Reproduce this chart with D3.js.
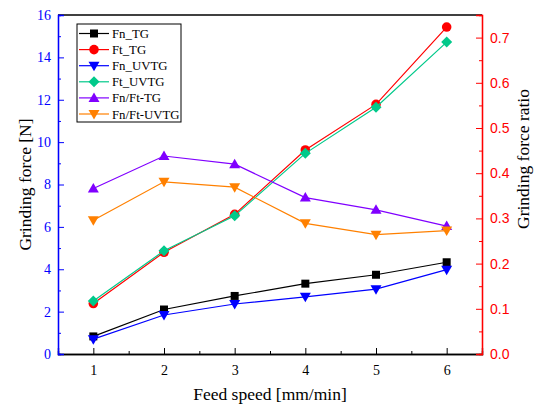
<!DOCTYPE html>
<html>
<head>
<meta charset="utf-8">
<title>Grinding force</title>
<script src="https://d3js.org/d3.v7.min.js"></script>
<style>
  body { margin: 0; background: #fff; }
  text { font-family: "Liberation Serif", "Times New Roman", serif; }
</style>
</head>
<body>
<div id="chart"></div>
<script>
// data
let feed = [1, 2, 3, 4, 5, 6];
let fnTG = [0.83, 2.1, 2.74, 3.32, 3.74, 4.33];
let ftTG = [2.38, 4.8, 6.59, 9.63, 11.78, 15.43];
let fnUVTG = [0.7, 1.84, 2.36, 2.7, 3.06, 3.98];
let ftUVTG = [2.5, 4.87, 6.52, 9.47, 11.65, 14.72];
let ratioTG = [0.366, 0.438, 0.42, 0.346, 0.319, 0.283];
let ratioUVTG = [0.296, 0.381, 0.369, 0.289, 0.264, 0.273];

let leftTicks = [0, 2, 4, 6, 8, 10, 12, 14, 16];
let rightTicks = [0, 0.1, 0.2, 0.3, 0.4, 0.5, 0.6, 0.7];

let series = [
  {name: "Fn_TG", values: fnTG, color: "#000000", sym: "square", axis: "left"},
  {name: "Ft_TG", values: ftTG, color: "#ff0000", sym: "circle", axis: "left"},
  {name: "Fn_UVTG", values: fnUVTG, color: "#0000ff", sym: "down", axis: "left"},
  {name: "Ft_UVTG", values: ftUVTG, color: "#00c98a", sym: "diamond", axis: "left"},
  {name: "Fn/Ft-TG", values: ratioTG, color: "#8000ff", sym: "up", axis: "right"},
  {name: "Fn/Ft-UVTG", values: ratioUVTG, color: "#ff8000", sym: "down", axis: "right"}
];

let margin = {top: 15, right: 57, bottom: 54, left: 58};
let W = 539, H = 408;
let w = W - margin.left - margin.right;
let h = H - margin.top - margin.bottom;

let svg = d3.select("#chart").append("svg")
  .attr("width", W).attr("height", H);
let g = svg.append("g")
  .attr("transform", "translate(" + margin.left + "," + margin.top + ")");

let x = d3.scaleLinear().domain([0.5, 6.5]).range([0, w]);
let yL = d3.scaleLinear().domain([0, 16]).range([h, 0]);
let yR = d3.scaleLinear().domain([0, 0.75]).range([h, 0]);

// frame top line
g.append("line").attr("x1", 0).attr("x2", w).attr("y1", 0).attr("y2", 0)
  .attr("stroke", "#000").attr("stroke-width", 1.3);

// bottom axis
let xAx = g.append("g").attr("transform", "translate(0," + h + ")");
xAx.call(d3.axisBottom(x).tickValues(feed).tickSize(-6).tickPadding(11).tickFormat(d3.format("d")));
xAx.append("g").call(d3.axisBottom(x).tickValues([1.5, 2.5, 3.5, 4.5, 5.5]).tickSize(-3).tickFormat(""));
xAx.selectAll(".domain").attr("stroke", "#000").attr("stroke-width", 1.3);
xAx.selectAll("text").attr("font-size", 14).attr("fill", "#000")
  .style("font-family", "'Liberation Serif', serif");

// left axis
let lAx = g.append("g");
lAx.call(d3.axisLeft(yL).tickValues(leftTicks).tickSize(-6).tickPadding(7));
lAx.append("g").call(d3.axisLeft(yL).tickValues([1, 3, 5, 7, 9, 11, 13, 15]).tickSize(-3).tickFormat(""));
lAx.selectAll(".domain").attr("stroke", "#0000ff").attr("stroke-width", 1.3);
lAx.selectAll("line").attr("stroke", "#0000ff");
lAx.selectAll("text").attr("font-size", 14).attr("fill", "#0000ff")
  .style("font-family", "'Liberation Serif', serif");

// right axis
let rAx = g.append("g").attr("transform", "translate(" + w + ",0)");
rAx.call(d3.axisRight(yR).tickValues(rightTicks).tickSize(-6).tickPadding(8).tickFormat(d3.format(".1f")));
rAx.append("g").call(d3.axisRight(yR).tickValues([0.05, 0.15, 0.25, 0.35, 0.45, 0.55, 0.65, 0.75]).tickSize(-3).tickFormat(""));
rAx.selectAll(".domain").attr("stroke", "#ff0000").attr("stroke-width", 1.3);
rAx.selectAll("line").attr("stroke", "#ff0000");
rAx.selectAll("text").attr("font-size", 14).attr("fill", "#ff0000")
  .style("font-family", "'Liberation Sans', Arial, sans-serif");

// axis titles
svg.append("text").attr("x", margin.left + w / 2).attr("y", 400)
  .attr("text-anchor", "middle").attr("font-size", 17.5).text("Feed speed [mm/min]");
svg.append("text").attr("transform", "translate(31," + (margin.top + h / 2) + ") rotate(-90)")
  .attr("text-anchor", "middle").attr("font-size", 17.5).text("Grinding force [N]");
svg.append("text").attr("transform", "translate(529,159) rotate(-90)")
  .attr("text-anchor", "middle").attr("font-size", 17.5).text("Grinding force ratio");

function symbolPath(sym) {
  if (sym == "square") return d3.symbol().type(d3.symbolSquare).size(64)();
  if (sym == "circle") return d3.symbol().type(d3.symbolCircle).size(72)();
  if (sym == "diamond") return "M0,-5.5L5.5,0L0,5.5L-5.5,0Z";
  if (sym == "up") return "M0,-5.5L5.5,4L-5.5,4Z";
  return "M0,5.5L5.5,-4L-5.5,-4Z";
}

series.forEach(function(s) {
  let y = s.axis == "left" ? yL : yR;
  let line = d3.line().x(function(d, i) { return x(feed[i]); }).y(function(d) { return y(d); });
  g.append("path").datum(s.values)
    .attr("d", line).attr("fill", "none").attr("stroke", s.color).attr("stroke-width", 1.2);
  g.selectAll(null).data(s.values).enter().append("path")
    .attr("d", symbolPath(s.sym))
    .attr("transform", function(d, i) { return "translate(" + x(feed[i]) + "," + y(d) + ")"; })
    .attr("fill", s.color);
});

// legend
let lg = svg.append("g").attr("transform", "translate(77,24)");
lg.append("rect").attr("width", 104).attr("height", 98)
  .attr("fill", "#fff").attr("stroke", "#000").attr("stroke-width", 1);
series.forEach(function(s, i) {
  let yy = 9.5 + i * 16.1;
  lg.append("line").attr("x1", 2).attr("x2", 32).attr("y1", yy).attr("y2", yy)
    .attr("stroke", s.color).attr("stroke-width", 1.2);
  lg.append("path").attr("d", symbolPath(s.sym))
    .attr("transform", "translate(17," + yy + ")").attr("fill", s.color);
  lg.append("text").attr("x", 35).attr("y", yy + 4.5).attr("font-size", 12.8).text(s.name);
});
</script>
</body>
</html>
